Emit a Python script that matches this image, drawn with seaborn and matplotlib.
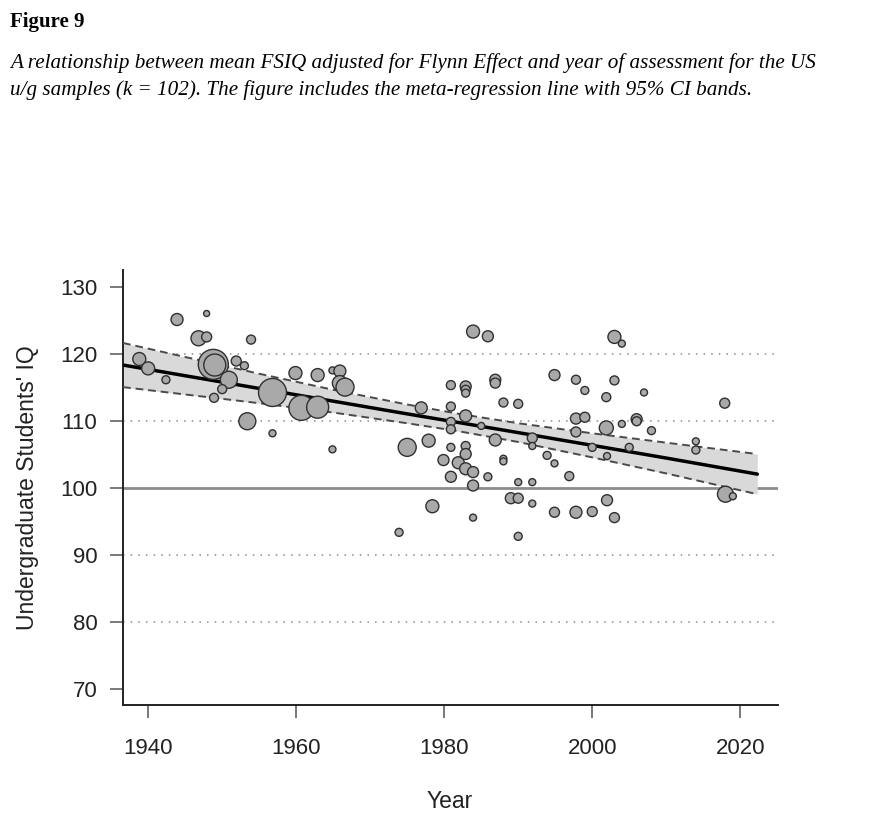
import numpy as np
import pandas as pd
import matplotlib
matplotlib.use("Agg")
import matplotlib.pyplot as plt
import seaborn as sns

# ---- data ----
year = [1938.8, 1940.0, 1942.4, 1943.9, 1947.9, 1946.8, 1947.9, 1953.9, 1948.8, 1949.0,
        1951.9, 1953.0, 1950.9, 1950.0, 1948.9, 1953.4, 1956.8, 1956.8, 1959.9, 1962.9,
        1964.9, 1965.9, 1965.9, 1966.6, 1960.7, 1962.9, 1964.9,
        1973.9, 1975.0, 1976.9, 1977.9, 1978.4, 1979.9, 1980.9, 1980.9, 1980.9, 1980.9,
        1980.9, 1980.9, 1981.9, 1982.9, 1982.9, 1982.9, 1982.9, 1982.9, 1982.9, 1982.9,
        1983.9, 1983.9, 1983.9, 1983.9, 1985.9, 1985.0, 1985.9, 1986.9, 1986.9, 1986.9,
        1988.0, 1988.0, 1988.0, 1989.0, 1990.0, 1990.0, 1990.0, 1990.0, 1991.9, 1991.9,
        1991.9, 1991.9, 1993.9, 1994.9, 1994.9, 1994.9, 1996.9, 1997.8, 1997.8, 1997.8,
        1997.8, 1999.0, 1999.0, 2000.0, 2000.0, 2001.9, 2001.9, 2002.0, 2002.0, 2003.0,
        2004.0, 2003.0, 2003.0, 2004.0, 2005.0, 2006.0, 2006.0, 2007.0, 2008.0, 2014.0,
        2014.0, 2017.9, 2018.0, 2019.0]
iq = [119.3, 117.9, 116.2, 125.2, 126.1, 122.4, 122.6, 122.2, 118.5, 118.4,
      119.0, 118.3, 116.2, 114.8, 113.5, 110.0, 108.2, 114.3, 117.2, 116.9,
      117.6, 117.5, 115.7, 115.1, 112.0, 112.1, 105.8,
      93.4, 106.1, 112.0, 107.1, 97.3, 104.2, 115.4, 112.2, 109.9, 108.8,
      106.1, 101.7, 103.8, 115.2, 114.7, 114.2, 110.8, 106.3, 105.1, 102.9,
      102.4, 100.4, 95.6, 123.4, 122.7, 109.3, 101.7, 116.2, 115.7, 107.2,
      112.8, 104.4, 104.0, 98.5, 98.5, 112.6, 100.9, 92.8, 107.5, 106.3,
      100.9, 97.7, 104.9, 103.7, 116.9, 96.4, 101.8, 116.2, 110.4, 108.4,
      96.4, 114.6, 110.6, 106.1, 96.5, 113.6, 109.0, 104.8, 98.2, 122.6,
      121.6, 116.1, 95.6, 109.6, 106.1, 110.3, 110.0, 114.3, 108.6, 107.0,
      105.7, 112.7, 99.1, 98.8]
# relative study weight (sqrt scale)
weight = [6.5, 6.5, 4.0, 6.0, 3.0, 7.5, 5.0, 4.5, 15.0, 11.0,
          5.0, 4.0, 8.5, 4.5, 4.5, 8.5, 3.5, 14.0, 6.5, 6.5,
          3.5, 6.0, 7.5, 9.0, 12.5, 11.0, 3.5,
          4.0, 9.0, 6.0, 6.5, 6.5, 5.5, 4.5, 4.5, 4.5, 4.5,
          4.0, 5.5, 6.0, 5.5, 4.5, 4.0, 6.0, 4.5, 5.5, 6.0,
          5.5, 5.5, 3.5, 6.5, 5.5, 3.5, 4.0, 5.5, 5.0, 6.0,
          4.5, 3.5, 3.5, 5.5, 5.0, 4.5, 3.5, 4.0, 5.0, 3.5,
          3.5, 3.5, 4.0, 3.5, 5.5, 5.0, 4.5, 4.5, 5.5, 5.0,
          6.0, 4.0, 5.0, 4.0, 5.0, 4.5, 7.0, 3.5, 5.5, 6.5,
          3.5, 4.5, 5.0, 3.5, 4.0, 5.5, 4.5, 3.5, 4.0, 3.5,
          4.0, 5.0, 8.0, 3.5]

# meta-regression line and 95% CI band
band_year = [1936.6, 1945, 1955, 1965, 1975, 1982, 1990, 2000, 2010, 2022.3]
band_fit = [118.4, 116.8, 114.9, 113.0, 111.1, 109.8, 108.3, 106.4, 104.5, 102.1]
band_lo = [115.1, 114.0, 112.7, 111.3, 109.7, 108.5, 106.9, 104.6, 102.2, 99.1]
band_hi = [121.7, 119.6, 117.1, 114.7, 112.5, 111.1, 109.7, 108.2, 106.8, 105.1]

x_ticks = [1940, 1960, 1980, 2000, 2020]
y_ticks = [70, 80, 90, 100, 110, 120, 130]
dotted_refs = [80, 90, 110, 120]
solid_ref = 100

df = pd.DataFrame({"year": year, "iq": iq, "w": np.array(weight) ** 2})

sns.set_theme(style="white")
plt.rcParams["font.family"] = ["Liberation Sans", "DejaVu Sans"]

fig = plt.figure(figsize=(8.75, 8.14), dpi=100)
ax = fig.add_axes([123 / 875, 1 - 705 / 814, 655 / 875, 435 / 814])

for v in dotted_refs:
    ax.axhline(v, color="#8a8a8a", lw=1.1, linestyle=(0, (1, 4)), zorder=1)
ax.axhline(solid_ref, color="#8c8c8c", lw=2.0, zorder=1)

ax.fill_between(band_year, band_lo, band_hi, color="#d9d9d9", lw=0, zorder=2)
sns.lineplot(x=band_year, y=band_lo, ax=ax, color="#4a4a4a", lw=1.4,
             linestyle=(0, (4, 2.5)), zorder=3, estimator=None, sort=False)
sns.lineplot(x=band_year, y=band_hi, ax=ax, color="#4a4a4a", lw=1.4,
             linestyle=(0, (4, 2.5)), zorder=3, estimator=None, sort=False)
sns.lineplot(x=band_year, y=band_fit, ax=ax, color="black", lw=2.5,
             zorder=4, estimator=None, sort=False)

wmin, wmax = 3.0 ** 2, 15.0 ** 2
sns.scatterplot(data=df, x="year", y="iq", size="w",
                sizes=((1.44 * 3) ** 2, (1.44 * 15) ** 2), size_norm=(wmin, wmax),
                color="#a9a9a9", edgecolor="#303030", linewidth=1.0,
                legend=False, zorder=5, ax=ax)

ax.set_xlim(1936.6, 2025.1)
ax.set_ylim(67.6, 132.6)
ax.set_xticks(x_ticks)
ax.set_yticks(y_ticks)
ax.set_xlabel("")
ax.set_ylabel("")
for s in ["top", "right"]:
    ax.spines[s].set_visible(False)
for s in ["left", "bottom"]:
    ax.spines[s].set_color("#222222")
    ax.spines[s].set_linewidth(1.4)
ax.tick_params(axis="both", which="major", bottom=True, left=True,
               direction="out", length=9.5, width=1.1,
               color="#555555", labelsize=16, labelcolor="#222222")
ax.tick_params(axis="y", pad=9)
ax.tick_params(axis="x", pad=14)

fig.text(28 / 875, 1 - 488 / 814, "Undergraduate Students' IQ", rotation=90,
         ha="center", va="center", fontsize=16.5, color="#222222")
fig.text(450 / 875, 1 - 801 / 814, "Year", ha="center", va="center",
         fontsize=16.5, color="#222222")

fig.text(10 / 875, 1 - 22 / 814, "Figure 9", ha="left", va="center",
         fontfamily="Liberation Serif", fontweight="bold", fontsize=15, color="black")
fig.text(10 / 875, 1 - 63 / 814,
         "A relationship between mean FSIQ adjusted for Flynn Effect and year of assessment for the US",
         ha="left", va="center", fontfamily="Liberation Serif", style="italic",
         fontsize=15.2, color="black")
fig.text(10 / 875, 1 - 90 / 814,
         "u/g samples (k = 102). The figure includes the meta-regression line with 95% CI bands.",
         ha="left", va="center", fontfamily="Liberation Serif", style="italic",
         fontsize=15.2, color="black")

fig.savefig("out.png", dpi=100)
